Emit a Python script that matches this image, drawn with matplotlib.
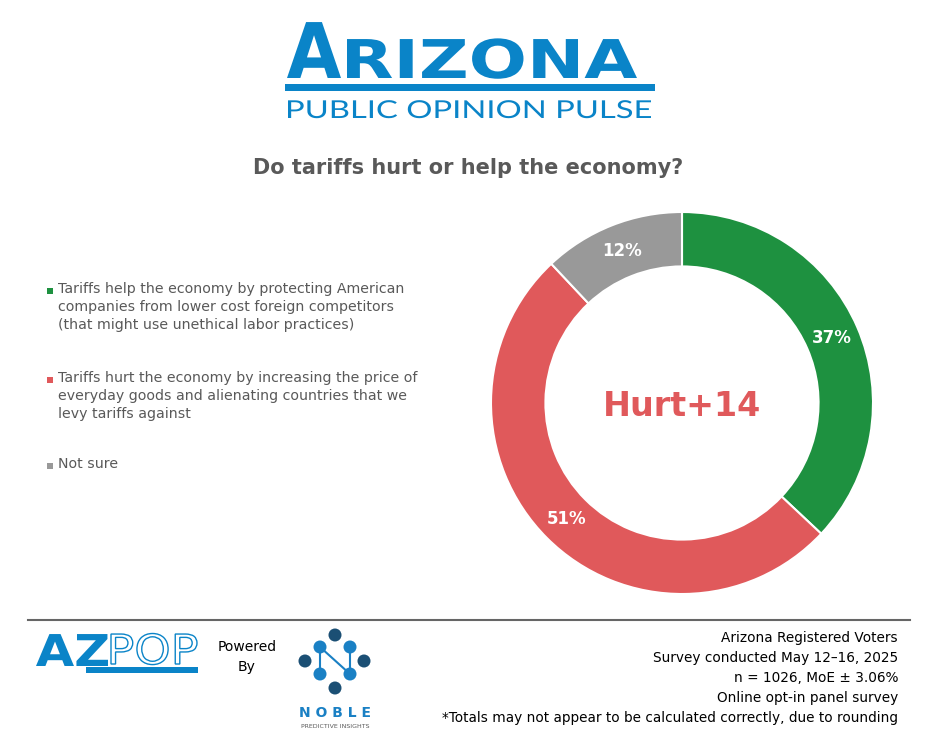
import matplotlib.pyplot as plt
from matplotlib.patches import Rectangle, Circle, PathPatch
from matplotlib.textpath import TextPath
from matplotlib.font_manager import FontProperties
from matplotlib.transforms import Affine2D

# Data
labels = [
    "Tariffs help the economy by protecting American\ncompanies from lower cost foreign competitors\n(that might use unethical labor practices)",
    "Tariffs hurt the economy by increasing the price of\neveryday goods and alienating countries that we\nlevy tariffs against",
    "Not sure",
]
values = [37, 51, 12]
colors = ['#1e9140', '#e0595b', '#999999']
center_label = "Hurt+14"
title = "Do tariffs hurt or help the economy?"
footer_lines = [
    "Arizona Registered Voters",
    "Survey conducted May 12\u201316, 2025",
    "n = 1026, MoE \u00b1 3.06%",
    "Online opt-in panel survey",
    "*Totals may not appear to be calculated correctly, due to rounding",
]

W, H = 936, 750
fig = plt.figure(figsize=(W / 100, H / 100), dpi=100)

# background axes in pixel coordinates (y goes down)
bg = fig.add_axes([0, 0, 1, 1])
bg.set_xlim(0, W)
bg.set_ylim(H, 0)
bg.axis('off')

blue = '#0a84c8'
grey_txt = '#595959'


def logo_text(s, x0, x1, baseline, cap, prop, color, outline=False):
    # text drawn as a path, stretched to span x0..x1 with the given cap height
    tp = TextPath((0, 0), s, size=100, prop=prop)
    ext = tp.get_extents()
    k = cap / 73.0
    sx = (x1 - x0) / ext.width
    tr = Affine2D().translate(-ext.x0, 0).scale(sx, -k).translate(x0, baseline)
    if outline:
        bg.add_patch(PathPatch(tr.transform_path(tp), facecolor='white', edgecolor=color, lw=1.0))
    else:
        bg.add_patch(PathPatch(tr.transform_path(tp), color=color, lw=0))


bold = FontProperties(family='DejaVu Sans', weight='bold')
thin = FontProperties(family='Lato', weight='normal')
plain = FontProperties(family='DejaVu Sans', weight='normal')

# header logo
logo_text("A", 287, 341, 78, 56, bold, blue)
logo_text("RIZONA", 347, 637, 78, 39, bold, blue)
bg.add_patch(Rectangle((285, 84), 370, 7, color=blue, lw=0))
logo_text("PUBLIC OPINION PULSE", 288, 651, 118, 18, thin, blue)

bg.text(468, 168, title, fontsize=15, fontweight='bold', color=grey_txt, ha='center', va='center')

# legend
leg_y = [291, 380, 466]
for lab, col, y in zip(labels, colors, leg_y):
    bg.add_patch(Rectangle((47, y - 3), 6, 6, color=col, lw=0))
    bg.text(58, y - 9, lab, fontsize=10.2, color=grey_txt, ha='left', va='top', linespacing=1.38)

# donut
cx, cy, r = 682, 403, 191
ax = fig.add_axes([(cx - r) / W, (H - cy - r) / H, 2 * r / W, 2 * r / H])
wedges, texts, autotexts = ax.pie(values, colors=colors, startangle=90, counterclock=False,
                                  radius=1, wedgeprops=dict(width=0.285, edgecolor='white', linewidth=1.5),
                                  autopct='%d%%', pctdistance=0.857,
                                  textprops=dict(color='white', fontweight='bold', fontsize=12))
ax.set_xlim(-1, 1)
ax.set_ylim(-1, 1)
ax.set_aspect('equal')
ax.text(0, -0.02, center_label, fontsize=24, fontweight='bold', color=colors[1], ha='center', va='center')

# footer
bg.plot([28, 910], [620, 620], color='#666666', lw=1.5)
for i, line in enumerate(footer_lines):
    bg.text(898, 638 + i * 20, line, fontsize=9.8, color='black', ha='right', va='center')

# AZPOP logo
logo_text("AZ", 36, 108, 666, 32, bold, blue)
logo_text("POP", 111, 197, 664, 30, plain, blue, outline=True)
bg.add_patch(Rectangle((86, 667), 112, 6, color=blue, lw=0))
bg.text(247, 657, "Powered\nBy", fontsize=10, color='black', ha='center', va='center', linespacing=1.5)

# Noble logo
dark, light = '#1b4f74', '#1a80c4'
bg.plot([320, 320], [647, 674], color=light, lw=1.5)
bg.plot([350, 350], [647, 674], color=light, lw=1.5)
bg.plot([320, 350], [647, 674], color=light, lw=1.5)
for (x, y, c) in [(335, 635, dark), (320, 647, light), (350, 647, light), (305, 661, dark),
                  (364, 661, dark), (320, 674, light), (350, 674, light), (335, 688, dark)]:
    bg.add_patch(Circle((x, y), 6.5, color=c, lw=0))
bg.text(335, 713, "N O B L E", fontsize=10, fontweight='bold', color=light, ha='center', va='center')
bg.text(335, 727, "PREDICTIVE INSIGHTS", fontsize=4.5, color=grey_txt, ha='center', va='center')

fig.savefig("out.png", dpi=100)
